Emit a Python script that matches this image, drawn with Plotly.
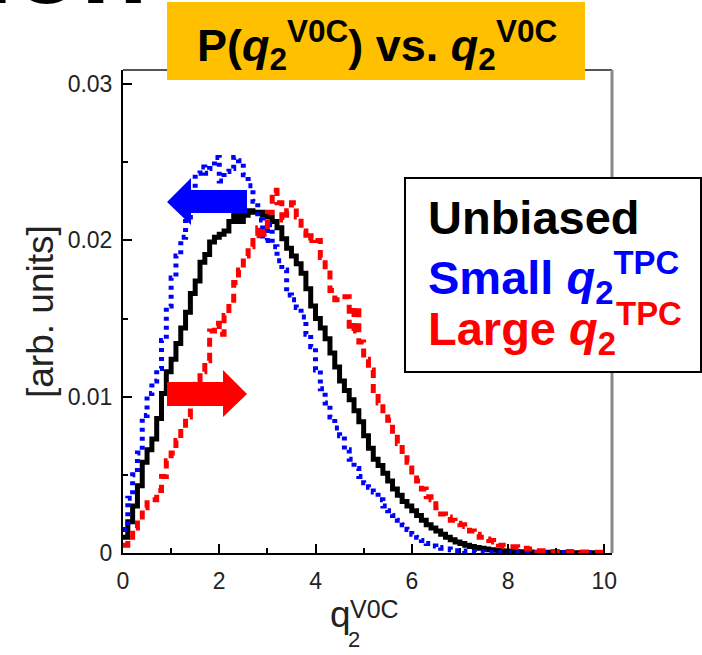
import numpy as np
import plotly.graph_objects as go

# ---------------- data (bin width 0.1 on q2^V0C from 0 to 10, values in units of 1e-3) -------------
bin_width = 0.1
unbiased = [1.0, 2.0, 3.0, 4.3, 5.8, 6.6, 7.3, 8.6, 10.2, 11.6,
            12.4, 13.4, 14.4, 15.4, 16.6, 17.4, 18.6, 19.1, 19.9, 20.2,
            20.4, 20.6, 21.2, 21.8, 21.2, 21.6, 21.9, 21.8, 21.8, 21.6,
            21.5, 21.2, 20.8, 20.1, 19.5, 19.0, 18.5, 17.9, 16.9, 15.8,
            15.0, 14.4, 13.7, 12.8, 11.9, 11.0, 10.4, 9.8, 9.1, 8.4,
            7.5, 6.7, 6.0, 5.6, 5.1, 4.6, 4.1, 3.7, 3.3, 3.0,
            2.7, 2.4, 2.1, 1.8, 1.6, 1.4, 1.2, 1.0, 0.85, 0.7,
            0.6, 0.5, 0.42, 0.35, 0.3, 0.25, 0.2, 0.17, 0.14, 0.12,
            0.1, 0.09, 0.08, 0.07, 0.06, 0.05, 0.05, 0.04, 0.04, 0.03,
            0.03, 0.03, 0.02, 0.02, 0.02, 0.02, 0.01, 0.01, 0.01, 0.01]
small_q2 = [1.5, 3.5, 5.0, 6.4, 8.8, 10.2, 11.0, 11.8, 13.6, 15.8,
            17.6, 19.0, 20.2, 21.5, 23.0, 24.3, 24.7, 24.3, 24.6, 25.3,
            23.8, 24.4, 24.6, 25.3, 25.1, 24.2, 23.5, 22.5, 21.3, 20.0,
            21.0, 19.6, 18.7, 18.1, 16.5, 16.2, 15.7, 15.1, 14.0, 13.2,
            11.7, 10.5, 9.6, 8.7, 8.0, 7.5, 6.6, 6.0, 5.4, 4.9,
            4.5, 4.2, 3.9, 3.4, 3.0, 2.7, 2.4, 2.1, 1.8, 1.5,
            1.2, 1.0, 0.8, 0.6, 0.45, 0.35, 0.3, 0.25, 0.2, 0.15,
            0.12, 0.1, 0.08, 0.07, 0.06, 0.05, 0.04, 0.04, 0.03, 0.03,
            0.02, 0.02, 0.02, 0.02, 0.01, 0.01, 0.01, 0.01, 0.01, 0.01,
            0.01, 0.01, 0.01, 0.01, 0.01, 0.01, 0.01, 0.01, 0.01, 0.01]
large_q2 = [0.5, 1.0, 1.6, 2.3, 2.9, 3.4, 3.4, 4.0, 4.9, 5.9,
            6.4, 7.2, 8.0, 8.7, 9.6, 10.8, 11.6, 12.3, 14.2, 14.7,
            14.0, 15.2, 16.0, 17.3, 18.1, 19.0, 19.6, 20.3, 20.8, 20.4,
            21.8, 23.2, 22.4, 21.3, 21.9, 22.4, 21.5, 20.6, 20.0, 20.3,
            20.0, 18.9, 18.1, 16.8, 16.2, 16.4, 16.4, 14.2, 15.7, 13.5,
            12.4, 11.7, 10.4, 9.6, 9.1, 8.5, 7.4, 7.0, 6.3, 5.8,
            5.0, 4.6, 4.1, 3.6, 3.4, 2.9, 2.5, 2.3, 2.1, 1.9,
            1.8, 1.7, 1.4, 1.2, 1.0, 0.9, 0.8, 0.7, 0.5, 0.4,
            0.4, 0.4, 0.35, 0.3, 0.25, 0.2, 0.15, 0.15, 0.1, 0.1,
            0.1, 0.1, 0.1, 0.08, 0.08, 0.06, 0.06, 0.05, 0.05, 0.05]

x_ticks = [0, 2, 4, 6, 8, 10]
y_ticks = [0, 0.01, 0.02, 0.03]
y_ticktext = ["0", "0.01", "0.02", "0.03"]

FONT = "Liberation Sans, Arial, Helvetica, sans-serif"


def step_xy(vals):
    v = np.asarray(vals) * 1e-3
    edges = np.arange(len(v) + 1) * bin_width
    return edges, np.append(v, v[-1])


fig = go.Figure()
series = [
    (unbiased, "#000000", "solid", 5),
    (small_q2, "#0000FF", "4px,5px", 5),
    (large_q2, "#FF0000", "9px,6px", 5),
]
for vals, col, dash, w in series:
    xs, ys = step_xy(vals)
    fig.add_trace(go.Scatter(x=xs, y=ys, mode="lines", line=dict(color=col, width=w, dash=dash, shape="hv"),
                             showlegend=False, hoverinfo="skip"))

L, R, T, B = 123, 90, 70, 102
W, H = 702, 655
pw, ph = W - L - R, H - T - B


def px(xp):
    return (xp - L) / pw


def py(yp):
    return (H - B - yp) / ph


shapes = []
# top and right frame (gray)
shapes.append(dict(type="line", xref="paper", yref="paper", x0=0, x1=1, y0=1, y1=1,
                   line=dict(color="#555555", width=2)))
shapes.append(dict(type="line", xref="paper", yref="paper", x0=1, x1=1, y0=0, y1=1,
                   line=dict(color="#8a8a8a", width=3)))
# orange title box
shapes.append(dict(type="rect", xref="paper", yref="paper", x0=px(167), x1=px(585), y0=py(80), y1=py(2),
                   fillcolor="#FFC000", line=dict(width=0), layer="above"))
# legend box
shapes.append(dict(type="rect", xref="paper", yref="paper", x0=px(405), x1=px(701), y0=py(372), y1=py(178),
                   fillcolor="white", line=dict(color="black", width=2), layer="above"))
# blue arrow (pointing left)
bp = [(167, 202), (191, 178), (191, 190), (247, 190), (247, 213), (191, 213), (191, 225)]
path = "M " + " L ".join(f"{px(a):.4f},{py(b):.4f}" for a, b in bp) + " Z"
shapes.append(dict(type="path", xref="paper", yref="paper", path=path, fillcolor="#0000FF",
                   line=dict(width=0), layer="above"))
# red arrow (pointing right)
rp = [(167, 382), (223, 382), (223, 370), (247, 394), (223, 417), (223, 406), (167, 406)]
path = "M " + " L ".join(f"{px(a):.4f},{py(b):.4f}" for a, b in rp) + " Z"
shapes.append(dict(type="path", xref="paper", yref="paper", path=path, fillcolor="#FF0000",
                   line=dict(width=0), layer="above"))


def ann(text, xp, yp, size, color="black", xanchor="center", yanchor="middle", **kw):
    return dict(text=text, xref="paper", yref="paper", x=px(xp), y=py(yp), xanchor=xanchor, yanchor=yanchor,
                showarrow=False, font=dict(family=FONT, size=size, color=color), **kw)


annotations = [
    # cut-off slide title at very top-left
    ann("<b>tion</b>", 150, 28, 110, xanchor="right", yanchor="bottom"),
    # title in orange box
    ann("<b>P(<i>q</i><sub>2</sub><sup>V0C</sup>) vs. <i>q</i><sub>2</sub><sup>V0C</sup></b>", 377, 45, 45),
    # legend texts
    ann("<b>Unbiased</b>", 426, 217, 47, xanchor="left"),
    ann("<b>Small <i>q</i><sub>2</sub><sup>TPC</sup></b>", 426, 277, 47, color="#0000FF", xanchor="left"),
    ann("<b>Large <i>q</i><sub>2</sub><sup>TPC</sup></b>", 426, 329, 47, color="#FF0000", xanchor="left"),
    # axis titles
    ann("[arb. units]", 40, 312, 37, color="#222222", textangle=-90),
    ann("q", 328, 614, 37, color="#222222", xanchor="left"),
    ann("2", 346, 639, 22, color="#222222", xanchor="left"),
    ann("V0C", 348, 609, 25, color="#222222", xanchor="left"),
]

fig.update_layout(
    width=W, height=H, autosize=False,
    margin=dict(l=L, r=R, t=T, b=B, pad=0),
    paper_bgcolor="white", plot_bgcolor="white",
    shapes=shapes, annotations=annotations, showlegend=False,
    font=dict(family=FONT),
)
fig.update_xaxes(range=[0, 10.16], tickvals=x_ticks, ticks="inside", ticklen=9, tickwidth=1.5, tickcolor="black",
                 showline=True, linecolor="black", linewidth=2, showgrid=False, zeroline=False,
                 tickfont=dict(family=FONT, size=23, color="#222222"), ticklabelstandoff=6,
                 minor=dict(dtick=1, ticklen=5, ticks="inside", tickcolor="black", tickwidth=1.5))
fig.update_yaxes(range=[0, 0.0309], tickvals=y_ticks, ticktext=y_ticktext, ticks="inside", ticklen=9,
                 tickwidth=1.5, tickcolor="black", showline=True, linecolor="black", linewidth=2,
                 showgrid=False, zeroline=False, tickfont=dict(family=FONT, size=23, color="#222222"),
                 ticklabelstandoff=4,
                 minor=dict(dtick=0.005, ticklen=5, ticks="inside", tickcolor="black", tickwidth=1.5))

fig.write_html("out.html", config={"displayModeBar": False},
               post_script="document.body.style.margin='0px';")
